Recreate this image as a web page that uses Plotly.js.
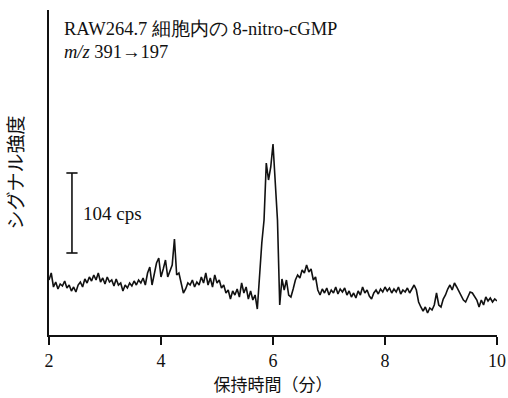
<!DOCTYPE html>
<html>
<head>
<meta charset="utf-8">
<script src="https://cdn.plot.ly/plotly-3.0.1.min.js"></script>
<style>html,body{margin:0;padding:0;background:#fff;}#chart{width:508px;height:398px;}</style>
</head>
<body>
<div id="chart"></div>
<script>
// Retention time grid: start and step (min)
const timeStart = 2.0;
const timeStep = 0.04;
// Signal intensity (arbitrary units), one value per time step from 2.00 to 10.00 min
const signal = [
  55,62,48,53,46,51,49,54,47,50,
  44,48,43,50,53,48,56,52,58,54,
  60,55,62,53,57,51,58,53,55,49,
  56,50,52,44,50,47,52,49,54,50,
  55,
  52,57,50,62,68,50,60,72,77,58,
  66,75,58,65,70,96,60,62,52,42,
  46,52,
  50,55,48,53,50,58,52,62,50,57,
  48,60,52,55,47,50,42,45,36,44,
  40,46,38,52,42,48,36,44,35,40,
  26,65,92,115,172,155,168,191,148,115,
  30,56,45,55,40,38,46,55,60,57,
  65,62,70,63,66,55,58,45,40,46,
  42,47,40,45,42,48,41,46,43,47,
  40,44,38,42,37,44,40,48,42,45,
  39,36,42,45,41,46,43,48,44,47,
  42,46,43,48,41,45,43,47,42,46,
  50,45,
  33,28,24,28,22,27,25,30,42,30,
  28,36,40,46,50,45,52,48,44,40,
  35,33,38,43,42,38,35,28,35,30,
  38,34,37,33,36,34
];
const xTicks = [2, 4, 6, 8, 10];
const xTickLabels = ["2", "4", "6", "8", "10"];
// Scale bar (signal units) and its label
const scaleBarLow = 82;
const scaleBarHigh = 162;
const scaleBarLabel = "104 cps";
const titleLine1 = "RAW264.7 細胞内の 8-nitro-cGMP";
const titleLine2 = "<i>m/z</i> 391→197";
const xTitle = "保持時間（分）";
const yTitle = "シグナル強度";

const serif = "Liberation Serif, DejaVu Serif, serif";
const cjk = "Noto Sans CJK JP, sans-serif";

const trace = {
  type: "scatter",
  mode: "lines",
  x0: timeStart,
  dx: timeStep,
  y: signal,
  line: {color: "#111", width: 1.6},
  hoverinfo: "skip"
};

const barX = 2.41, capHalf = 0.1;
const layout = {
  width: 508, height: 398,
  margin: {l: 49, r: 11, t: 10, b: 63},
  paper_bgcolor: "#fff", plot_bgcolor: "#fff",
  showlegend: false,
  xaxis: {
    range: [2, 10], tickvals: xTicks, ticktext: xTickLabels,
    ticks: "outside", ticklen: 8, tickwidth: 1.5, tickcolor: "#111",
    showline: true, linecolor: "#111", linewidth: 2,
    showgrid: false, zeroline: false,
    tickfont: {family: serif, size: 18, color: "#111"},
    title: {text: xTitle, font: {family: cjk, size: 17, color: "#111"}, standoff: 8}
  },
  yaxis: {
    range: [0, 325], showticklabels: false, ticks: "",
    showline: true, linecolor: "#111", linewidth: 2.5,
    showgrid: false, zeroline: false,
    title: {text: yTitle, font: {family: cjk, size: 19, color: "#111"}, standoff: 18}
  },
  shapes: [
    {type: "line", xref: "x", yref: "y", x0: barX, x1: barX, y0: scaleBarLow, y1: scaleBarHigh, line: {color: "#111", width: 1.6}},
    {type: "line", xref: "x", yref: "y", x0: barX - capHalf, x1: barX + capHalf, y0: scaleBarLow, y1: scaleBarLow, line: {color: "#111", width: 1.6}},
    {type: "line", xref: "x", yref: "y", x0: barX - capHalf, x1: barX + capHalf, y0: scaleBarHigh, y1: scaleBarHigh, line: {color: "#111", width: 1.6}}
  ],
  annotations: [
    {xref: "paper", yref: "paper", x: 0.029, y: 0.943, xanchor: "left", yanchor: "middle", showarrow: false,
     text: titleLine1, font: {family: serif, size: 18.5, color: "#111"}},
    {xref: "paper", yref: "paper", x: 0.029, y: 0.872, xanchor: "left", yanchor: "middle", showarrow: false,
     text: titleLine2, font: {family: serif, size: 18.5, color: "#111"}},
    {xref: "x", yref: "y", x: 2.58, y: (scaleBarLow + scaleBarHigh) / 2, xanchor: "left", yanchor: "middle", showarrow: false,
     text: scaleBarLabel, font: {family: serif, size: 19, color: "#111"}}
  ]
};

Plotly.newPlot("chart", [trace], layout, {staticPlot: true, displayModeBar: false});
</script>
</body>
</html>
